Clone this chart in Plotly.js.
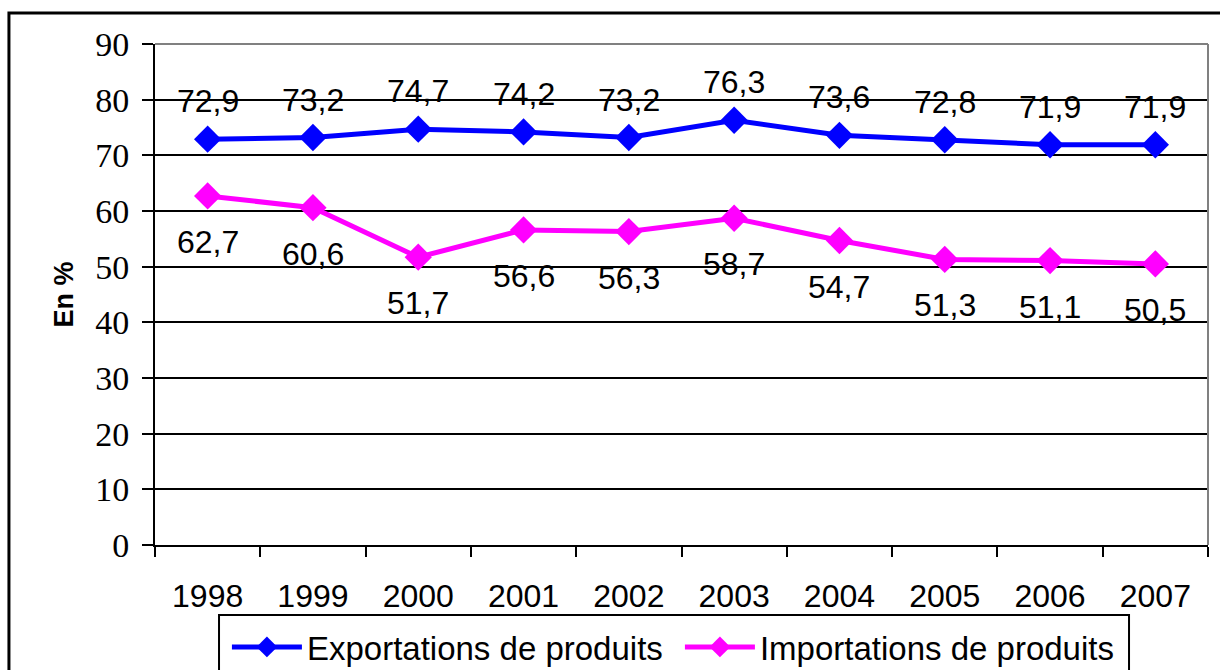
<!DOCTYPE html>
<html><head><meta charset="utf-8">
<script src="https://cdn.plot.ly/plotly-3.0.1.min.js"></script>
<style>body{margin:0;background:#fff}#chart{width:1220px;height:670px}</style>
</head><body><div id="chart"></div>
<script>
const years = ['1998','1999','2000','2001','2002','2003','2004','2005','2006','2007'];
const exportations = [72.9,73.2,74.7,74.2,73.2,76.3,73.6,72.8,71.9,71.9];
const importations = [62.7,60.6,51.7,56.6,56.3,58.7,54.7,51.3,51.1,50.5];
const seriesNames = ['Exportations de produits','Importations de produits'];
const fmt = v => v.toFixed(1).replace('.', ',');

const sans = 'Liberation Sans, Arial, sans-serif';
const serif = 'Liberation Serif, Times New Roman, serif';

const traces = [
  {x: years, y: exportations, name: seriesNames[0], type: 'scatter', mode: 'lines+markers',
   line: {color: '#0000FF', width: 5}, marker: {symbol: 'diamond', size: 21, color: '#0000FF'}},
  {x: years, y: importations, name: seriesNames[1], type: 'scatter', mode: 'lines+markers',
   line: {color: '#FF00FF', width: 5}, marker: {symbol: 'diamond', size: 21, color: '#FF00FF'}}
];

const annotations = [];
years.forEach((yr, i) => {
  annotations.push({x: i, y: exportations[i], xref: 'x', yref: 'y', text: fmt(exportations[i]), showarrow: false,
    yshift: 38, font: {family: sans, size: 32, color: '#000'}});
  annotations.push({x: i, y: importations[i], xref: 'x', yref: 'y', text: fmt(importations[i]), showarrow: false,
    yshift: -46, font: {family: sans, size: 32, color: '#000'}});
});

const layout = {
  width: 1220, height: 670,
  margin: {l: 155, r: 12, t: 44, b: 125, autoexpand: false},
  paper_bgcolor: '#fff', plot_bgcolor: '#fff',
  showlegend: true,
  legend: {orientation: 'h', xref: 'container', yref: 'container', x: 0.186, xanchor: 'left',
    y: 0.5 - (647 - 335) / 670, yanchor: 'middle', itemwidth: 70,
    borderwidth: 0, bgcolor: 'rgba(0,0,0,0)', font: {family: sans, size: 33, color: '#000'},
    entrywidth: 368, entrywidthmode: 'pixels'},
  xaxis: {type: 'category', range: [-0.5, 9.5], tickson: 'boundaries', ticks: 'outside',
    ticklen: 10, tickwidth: 2, tickcolor: '#000', showline: true, linecolor: '#000', linewidth: 2,
    showgrid: false, zeroline: false, ticklabelstandoff: 22,
    tickfont: {family: sans, size: 32, color: '#000'}},
  yaxis: {range: [0, 90], dtick: 10, ticks: 'outside', ticklen: 11, tickwidth: 2, tickcolor: '#000',
    showline: true, linecolor: '#000', linewidth: 2, showgrid: true, gridcolor: '#000', gridwidth: 2,
    zeroline: false, ticklabelstandoff: 6, tickfont: {family: serif, size: 34, color: '#000'},
    title: {text: '<b>En %</b>', font: {family: sans, size: 27, color: '#000'}, standoff: 14}},
  annotations: annotations,
  shapes: [
    {type: 'line', xref: 'paper', yref: 'paper', x0: 0, x1: 1, y0: 1, y1: 1, line: {color: '#808080', width: 2}},
    {type: 'line', xref: 'paper', yref: 'paper', x0: 1, x1: 1, y0: 0, y1: 1, line: {color: '#808080', width: 2}},
    {type: 'rect', xref: 'paper', yref: 'paper', x0: -0.1387, x1: 1.1, y0: -0.3, y1: 1.0619,
     line: {color: '#000', width: 3}, fillcolor: 'rgba(0,0,0,0)', layer: 'below'},
    {type: 'rect', xref: 'paper', yref: 'paper', x0: 0.0608, x1: 0.925, y0: -0.3, y1: -0.1397,
     line: {color: '#000', width: 2}, fillcolor: 'rgba(0,0,0,0)', layer: 'below'}
  ]
};

Plotly.newPlot('chart', traces, layout, {displayModeBar: false});
</script></body></html>
